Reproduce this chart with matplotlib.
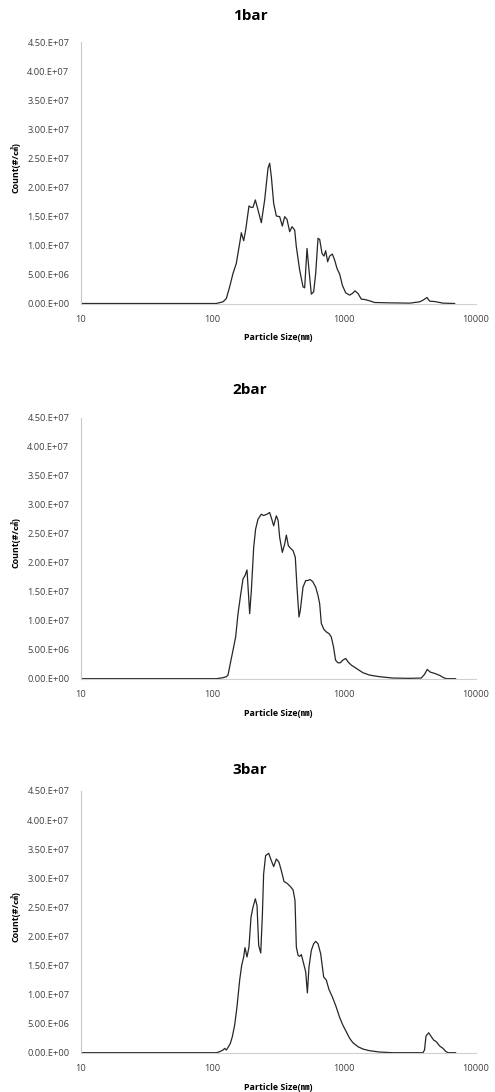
import numpy as np
import matplotlib
matplotlib.use('Agg')
import matplotlib.pyplot as plt
from matplotlib.ticker import FuncFormatter, FixedLocator

plt.rcParams['font.family'] = ['Open Sans', 'Noto Sans CJK KR', 'DejaVu Sans']

#-------------------------------
# data (size in nm, count in #/cm3)
#-------------------------------
titles = ['1bar', '2bar', '3bar']

size_1bar = [10, 106.6, 119.8, 127.0, 134.6, 142.7, 151.2, 160.3, 165.1, 172.0, 178.1,
             188.7, 195.5, 202.5, 210.9, 221.0, 234.2, 248.3, 263.2, 271.0, 279.0,
             290.6, 304.5, 322.8, 338.1, 352.3, 366.9, 384.4, 400.6, 419.7, 431.9,
             457.9, 485.4, 499.7, 520.5, 539.0, 561.5, 585.0, 605.8, 631.0, 649.7,
             676.8, 700.9, 721.6, 746.9, 773.6, 810.5, 844.3, 879.5, 921.6, 965.6,
             1023.5, 1098, 1150, 1205, 1270, 1346, 1427, 1557, 1700, 2210, 3134,
             3735, 3958, 4245, 4447, 4855, 5616, 6887]
count_1bar = [0, 0, 0.029, 0.086, 0.287, 0.517, 0.69, 1.034, 1.218, 1.08, 1.264,
              1.678, 1.655, 1.655, 1.782, 1.609, 1.391, 1.782, 2.328, 2.414, 2.184,
              1.724, 1.506, 1.494, 1.333, 1.494, 1.448, 1.236, 1.322, 1.264, 0.977,
              0.575, 0.287, 0.27, 0.948, 0.575, 0.161, 0.201, 0.517, 1.121, 1.103,
              0.862, 0.816, 0.908, 0.718, 0.816, 0.851, 0.747, 0.603, 0.506, 0.316,
              0.184, 0.144, 0.172, 0.218, 0.172, 0.075, 0.069, 0.046, 0.017, 0.011, 0.006,
              0.029, 0.057, 0.103, 0.04, 0.034, 0.006, 0]

size_2bar = [10, 106.6, 119.8, 127.0, 130.8, 134.6, 142.7, 149.5, 155.8, 162.2, 170.0,
             176.0, 182.3, 191.0, 196.7, 204.9, 211.9, 221.0, 234.2, 243.8, 258.5,
             271.0, 281.0, 290.6, 304.5, 313.9, 322.8, 338.1, 352.3, 362.8, 375.8,
             389.3, 408.0, 424.3, 436.9, 452.6, 463.0, 485.4, 508.8, 528.2, 548.6,
             575.0, 605.8, 631.0, 649.7, 669.0, 700.9, 730.2, 764.7, 795.7, 827.5,
             857.7, 893.4, 930.5, 974.5, 1023.5, 1066, 1130, 1235, 1384, 1551, 1854,
             2338, 3134, 3835, 4063, 4264, 4490, 4855, 5302, 5616, 5948, 7000]
count_2bar = [0, 0, 0.017, 0.034, 0.063, 0.206, 0.491, 0.72, 1.12, 1.406, 1.72,
              1.777, 1.874, 1.12, 1.52, 2.263, 2.577, 2.749, 2.834, 2.811, 2.834,
              2.863, 2.749, 2.634, 2.806, 2.731, 2.434, 2.177, 2.32, 2.474, 2.291,
              2.251, 2.206, 2.091, 1.577, 1.063, 1.177, 1.577, 1.691, 1.691, 1.709,
              1.674, 1.577, 1.434, 1.291, 0.949, 0.846, 0.806, 0.777, 0.72, 0.549,
              0.32, 0.274, 0.274, 0.32, 0.349, 0.291, 0.234, 0.177, 0.103, 0.063, 0.034,
              0.011, 0.006, 0.011, 0.074, 0.16, 0.114, 0.091, 0.057, 0.023, 0, 0]

size_3bar = [10, 106.6, 113.0, 119.8, 123.4, 127.0, 130.8, 136.2, 141.0, 146.9, 153.0,
             160.3, 166.1, 172.0, 176.0, 182.3, 188.7, 195.5, 202.5, 210.9, 217.2,
             223.6, 231.8, 238.7, 243.8, 252.4, 266.4, 279.0, 290.6, 304.5, 319.0,
             332.3, 348.2, 366.9, 389.3, 408.0, 422.0, 432.0, 445.2, 458.0, 471.5,
             490.9, 508.8, 524.0, 539.0, 561.5, 585.0, 605.8, 631.0, 661.0, 696.6,
             730.2, 764.7, 810.5, 857.7, 921.6, 974.5, 1035, 1098, 1163, 1270, 1384,
             1557, 1854, 2338, 3958, 4063, 4172, 4371, 4580, 4770, 4996, 5302, 5616,
             5884, 6129, 7000]
count_3bar = [0, 0, 0.017, 0.046, 0.074, 0.046, 0.091, 0.16, 0.274, 0.474, 0.789,
              1.246, 1.503, 1.646, 1.806, 1.646, 1.817, 2.331, 2.503, 2.646, 2.531,
              1.846, 1.714, 2.389, 3.074, 3.389, 3.429, 3.303, 3.2, 3.331, 3.274,
              3.131, 2.943, 2.914, 2.857, 2.8, 2.617, 1.817, 1.674, 1.657, 1.686,
              1.531, 1.389, 1.029, 1.474, 1.76, 1.874, 1.914, 1.874, 1.703, 1.303,
              1.246, 1.086, 0.96, 0.817, 0.606, 0.474, 0.36, 0.246, 0.171, 0.103, 0.063,
              0.034, 0.011, 0, 0, 0.046, 0.286, 0.343, 0.274, 0.217, 0.189, 0.114, 0.074,
              0.023, 0, 0]

sizes = [size_1bar, size_2bar, size_3bar]
counts = [count_1bar, count_2bar, count_3bar]

y_ticks = [0, 5e6, 1e7, 1.5e7, 2e7, 2.5e7, 3e7, 3.5e7, 4e7, 4.5e7]
x_ticks = [10, 100, 1000, 10000]


def excel_sci(v, pos):
    # Excel style "4.50.E+07"
    if v == 0:
        return '0.00.E+00'
    e = int(np.floor(np.log10(abs(v))))
    m = v / 10 ** e
    return '%.2f.E%+03d' % (m, e)


W, H = 495, 1092
fig = plt.figure(figsize=(W / 100, H / 100), dpi=100)

# pixel boxes of the three panels: (top, bottom)
boxes = [(42, 303.5), (417.5, 678.7), (791, 1052.7)]
title_y = [16, 390, 770]
left, right = 81, 476

for i in range(3):
    top, bot = boxes[i]
    ax = fig.add_axes([left / W, 1 - bot / H, (right - left) / W, (bot - top) / H])
    ax.plot(sizes[i], np.array(counts[i]) * 1e7, color='#262626', lw=0.9)
    ax.set_xscale('log')
    ax.set_xlim(10, 10000)
    ax.set_ylim(0, 4.5e7)
    ax.xaxis.set_major_locator(FixedLocator(x_ticks))
    ax.xaxis.set_minor_locator(FixedLocator([]))
    ax.xaxis.set_major_formatter(FuncFormatter(lambda v, p: '%d' % v))
    ax.yaxis.set_major_locator(FixedLocator(y_ticks))
    ax.yaxis.set_major_formatter(FuncFormatter(excel_sci))
    ax.tick_params(axis='both', length=0, labelsize=6.7, colors='#404040')
    ax.tick_params(axis='x', pad=8)
    ax.tick_params(axis='y', pad=8.5)
    for s in ['top', 'right']:
        ax.spines[s].set_visible(False)
    ax.spines['left'].set_color('#c8c8c8')
    ax.spines['bottom'].set_color('#d0d0d0')
    ax.spines['left'].set_linewidth(0.8)
    ax.spines['bottom'].set_linewidth(0.8)
    ax.set_xlabel('Particle Size(㎚)', fontsize=6.4, fontweight='bold', labelpad=7)
    ax.set_ylabel('Count(#/㎤)', fontsize=6.4, fontweight='bold')
    ax.yaxis.set_label_coords((20 - left) / (right - left), 0.52)
    fig.text(0.505, 1 - title_y[i] / H, titles[i], ha='center', va='center',
             fontsize=11, fontweight='bold')

fig.savefig('out.png', dpi=100)
